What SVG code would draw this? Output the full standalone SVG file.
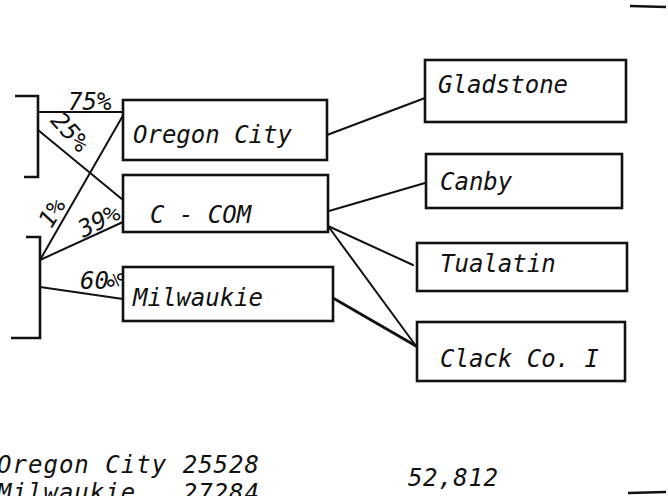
<svg xmlns="http://www.w3.org/2000/svg" width="668" height="496" viewBox="0 0 668 496">
<style>
.box{fill:#fff;stroke:#111;stroke-width:2.6}
.ln{fill:none;stroke:#111;stroke-width:2;stroke-linecap:round}
.br{fill:none;stroke:#111;stroke-width:2.6;stroke-linecap:butt}
.t{font-family:"DejaVu Sans Mono","Liberation Mono",monospace;font-style:oblique;font-size:24px;fill:#111}
.p{font-family:"DejaVu Sans Mono","Liberation Mono",monospace;font-style:oblique;font-size:24px;fill:#111}
</style>
<rect width="668" height="496" fill="#fff"/>
<g id="brackets">
<path class="br" d="M15 96 H38 V177 H24"/>
<path class="br" d="M26 237 H40 V338 H11"/>
<line class="br" x1="630" y1="6" x2="666" y2="7"/>
<line class="br" x1="628" y1="493" x2="666" y2="492"/>
</g>
<g id="connectors">
<line class="ln" x1="38" y1="112" x2="125" y2="112"/>
<line class="ln" x1="38" y1="130" x2="123" y2="200"/>
<line class="ln" x1="40" y1="260" x2="125" y2="112"/>
<line class="ln" x1="40" y1="260" x2="123" y2="222"/>
<line class="ln" x1="40" y1="287" x2="123" y2="299"/>
<line class="ln" x1="327" y1="135" x2="425" y2="98"/>
<line class="ln" x1="329" y1="211" x2="425" y2="183"/>
<line class="ln" x1="328" y1="226" x2="413" y2="265"/>
<line class="ln" x1="328" y1="226" x2="416" y2="346"/>
<line class="ln" x1="333" y1="298" x2="416" y2="346" style="stroke-width:2.8"/>
</g>
<g id="labels">
<text class="p" x="68" y="110">75%</text>
<text class="p" transform="translate(70,132) rotate(48)" text-anchor="middle" y="8">25%</text>
<text class="p" transform="translate(52,213) rotate(-58)" text-anchor="middle" y="8">1%</text>
<text class="p" transform="translate(99,221) rotate(-27)" text-anchor="middle" y="8">39%</text>
<text class="p" x="80" y="289">60</text>
<text class="p" transform="translate(114,280) rotate(90)" text-anchor="middle" y="7" font-size="20">%</text>
</g>
<g id="node-oregon-city">
<rect class="box" x="123" y="100" width="204" height="60"/>
<text class="t" x="133" y="143">Oregon City</text>
</g>
<g id="node-c-com">
<rect class="box" x="123" y="175" width="205" height="57"/>
<text class="t" x="150" y="223">C - COM</text>
</g>
<g id="node-milwaukie">
<rect class="box" x="123" y="267" width="210" height="54"/>
<text class="t" x="133" y="306">Milwaukie</text>
</g>
<g id="node-gladstone">
<rect class="box" x="425" y="60" width="201" height="62"/>
<text class="t" x="438" y="93">Gladstone</text>
</g>
<g id="node-canby">
<rect class="box" x="426" y="154" width="196" height="54"/>
<text class="t" x="440" y="190">Canby</text>
</g>
<g id="node-tualatin">
<rect class="box" x="417" y="243" width="210" height="48"/>
<text class="t" x="440" y="272">Tualatin</text>
</g>
<g id="node-clack-co">
<rect class="box" x="417" y="322" width="208" height="59"/>
<text class="t" x="440" y="367">Clack Co. I</text>
</g>
<g id="notes">
<text class="t" x="-3" y="473" xml:space="preserve" textLength="262">Oregon City 25528</text>
<text class="t" x="-3" y="501" xml:space="preserve" textLength="262">Milwaukie   27284</text>
<text class="t" x="408" y="486" textLength="90">52,812</text>
</g>
</svg>
